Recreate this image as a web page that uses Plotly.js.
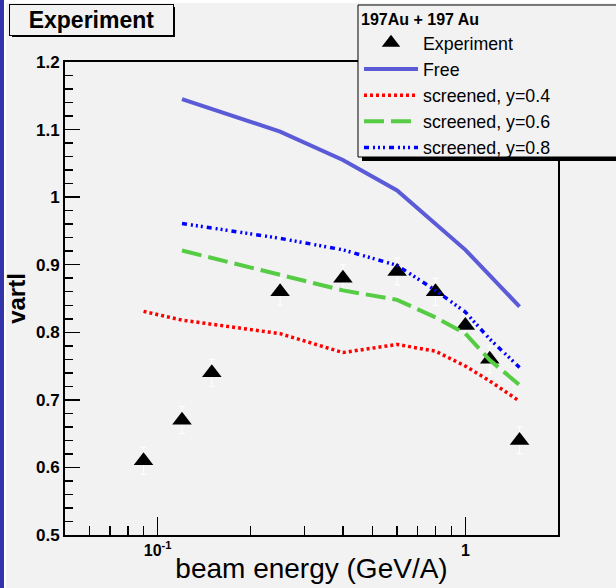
<!DOCTYPE html>
<html>
<head>
<meta charset="utf-8">
<script src="https://cdn.plot.ly/plotly-3.0.1.min.js"></script>
<style>
  html, body { margin: 0; padding: 0; background: #f2f2f2; }
  #chart { width: 616px; height: 588px; }
</style>
</head>
<body>
<div id="chart"></div>
<script>
// Measured elliptic-flow ratio vs beam energy, Au+Au
const expEnergy = [0.09, 0.12, 0.15, 0.25, 0.4, 0.6, 0.8, 1.0, 1.2, 1.5];
const expVartl  = [0.61, 0.67, 0.74, 0.86, 0.88, 0.89, 0.86, 0.81, 0.76, 0.64];
const expErr    = [0.02, 0.02, 0.02, 0.02, 0.02, 0.02, 0.02, 0.02, 0.02, 0.02];

// Model curves
const freeEnergy = [0.12, 0.25, 0.4, 0.6, 1.0, 1.5];
const freeVartl  = [1.145, 1.097, 1.055, 1.010, 0.922, 0.838];

const scr04Energy = [0.09, 0.12, 0.25, 0.4, 0.6, 0.8, 1.0, 1.2, 1.5];
const scr04Vartl  = [0.831, 0.818, 0.798, 0.770, 0.782, 0.772, 0.750, 0.728, 0.698];

const scr06Energy = [0.12, 0.25, 0.4, 0.6, 0.8, 1.0, 1.2, 1.5];
const scr06Vartl  = [0.921, 0.885, 0.862, 0.848, 0.822, 0.798, 0.759, 0.722];

const scr08Energy = [0.12, 0.25, 0.4, 0.6, 0.8, 1.0, 1.2, 1.5];
const scr08Vartl  = [0.961, 0.939, 0.922, 0.899, 0.862, 0.830, 0.790, 0.748];

const xTickVals  = [0.1, 1];
const xTickText  = ['10<sup>-1</sup>', '1'];
const xMinorVals = [0.06, 0.07, 0.08, 0.09, 0.2, 0.3, 0.4, 0.5, 0.6, 0.7, 0.8, 0.9, 2];

// page geometry (pixels) used to place decorations in paper coordinates
const W = 616, H = 588;
const M = { l: 65, r: 58, t: 62, b: 53, autoexpand: false };
const PW = W - M.l - M.r, PH = H - M.t - M.b;
const px = x => (x - M.l) / PW;
const py = y => (H - M.b - y) / PH;

const FONT = 'Liberation Sans, Arial, Helvetica, sans-serif';
const BG = '#f2f2f2';

const traces = [
  {
    name: 'Experiment', x: expEnergy, y: expVartl, type: 'scatter', mode: 'markers',
    marker: { symbol: 'triangle-up', size: 17, color: '#000000' },
    error_y: { type: 'data', array: expErr, visible: true, color: '#ffffff', thickness: 1, width: 3 }
  },
  {
    name: 'Free', x: freeEnergy, y: freeVartl, type: 'scatter', mode: 'lines',
    line: { color: '#5b5bd8', width: 4 }
  },
  {
    name: 'screened, y=0.4', x: scr04Energy, y: scr04Vartl, type: 'scatter', mode: 'lines',
    line: { color: '#ff0000', width: 3.5, dash: '3px,3px' }
  },
  {
    name: 'screened, y=0.6', x: scr06Energy, y: scr06Vartl, type: 'scatter', mode: 'lines',
    line: { color: '#55cc44', width: 4, dash: '20px,7px' }
  },
  {
    name: 'screened, y=0.8', x: scr08Energy, y: scr08Vartl, type: 'scatter', mode: 'lines',
    line: { color: '#0000ff', width: 3.5, dash: '5px,4px,2px,3px,2px,3px,2px,4px' }
  }
];

const shapes = [
  // dark blue strip at the left page edge
  { type: 'rect', xref: 'paper', yref: 'paper', x0: px(0), x1: px(4), y0: py(H + 5), y1: py(-5),
    fillcolor: '#3333aa', line: { width: 0 }, layer: 'above' },
  { type: 'rect', xref: 'paper', yref: 'paper', x0: px(4), x1: px(6), y0: py(H + 5), y1: py(-5),
    fillcolor: '#ffffff', line: { width: 0 }, layer: 'above' },
  { type: 'rect', xref: 'paper', yref: 'paper', x0: px(4), x1: px(W + 5), y0: py(3), y1: py(-5),
    fillcolor: '#ffffff', line: { width: 0 }, layer: 'above' },
  // title box shadow
  { type: 'rect', xref: 'paper', yref: 'paper', x0: px(12), x1: px(175), y0: py(37), y1: py(7),
    fillcolor: '#000000', line: { width: 0 }, layer: 'above' },
  // legend box with shadow
  { type: 'rect', xref: 'paper', yref: 'paper', x0: px(362), x1: px(W + 10), y0: py(161), y1: py(9),
    fillcolor: '#000000', line: { width: 0 }, layer: 'above' },
  { type: 'rect', xref: 'paper', yref: 'paper', x0: px(358), x1: px(W + 10), y0: py(157), y1: py(5),
    fillcolor: BG, line: { color: '#000000', width: 1 }, layer: 'above' }
];

const axisCommon = {
  showline: true, linecolor: '#000000', linewidth: 2, mirror: true,
  showgrid: false, zeroline: false, ticks: 'inside', tickcolor: '#000000', tickwidth: 1.5
};

const layout = {
  width: W, height: H,
  margin: M,
  paper_bgcolor: BG, plot_bgcolor: BG,
  font: { family: FONT, color: '#000000' },
  showlegend: true,
  legend: {
    x: px(359), y: py(4), xanchor: 'left', yanchor: 'top',
    bgcolor: 'rgba(0,0,0,0)', borderwidth: 0,
    font: { family: FONT, size: 17.8, color: '#000000' },
    title: { text: '197Au + 197 Au', font: { family: FONT, size: 16, weight: 'bold' } },
    itemwidth: 54, tracegroupgap: 0
  },
  xaxis: Object.assign({}, axisCommon, {
    type: 'log', range: [Math.log10(0.05), Math.log10(2)],
    tickmode: 'array', tickvals: xTickVals, ticktext: xTickText, ticklen: 18,
    tickfont: { family: FONT, size: 16, weight: 'bold' },
    minor: { tickmode: 'array', tickvals: xMinorVals, ticks: 'inside', ticklen: 9, tickcolor: '#000000', tickwidth: 1.5 },
    title: { text: 'beam energy (GeV/A)', font: { family: FONT, size: 28 }, standoff: 0 }
  }),
  yaxis: Object.assign({}, axisCommon, {
    range: [0.5, 1.2], dtick: 0.1, tick0: 0.5, ticklen: 15,
    tickfont: { family: FONT, size: 17, weight: 'bold' },
    minor: { dtick: 0.02, ticks: 'inside', ticklen: 8, tickcolor: '#000000', tickwidth: 1.5 },
    title: { text: 'vartl', font: { family: FONT, size: 24, weight: 'bold' }, standoff: 4 }
  }),
  shapes: shapes,
  annotations: [
    { text: 'Experiment', xref: 'paper', yref: 'paper', x: px(91.5), y: py(20),
      xanchor: 'center', yanchor: 'middle', showarrow: false, width: 161, height: 28,
      bgcolor: BG, bordercolor: '#000000', borderwidth: 1,
      font: { family: FONT, size: 23, weight: 'bold', color: '#000000' } }
  ]
};

Plotly.newPlot('chart', traces, layout, { displayModeBar: false, staticPlot: true });
</script>
</body>
</html>
